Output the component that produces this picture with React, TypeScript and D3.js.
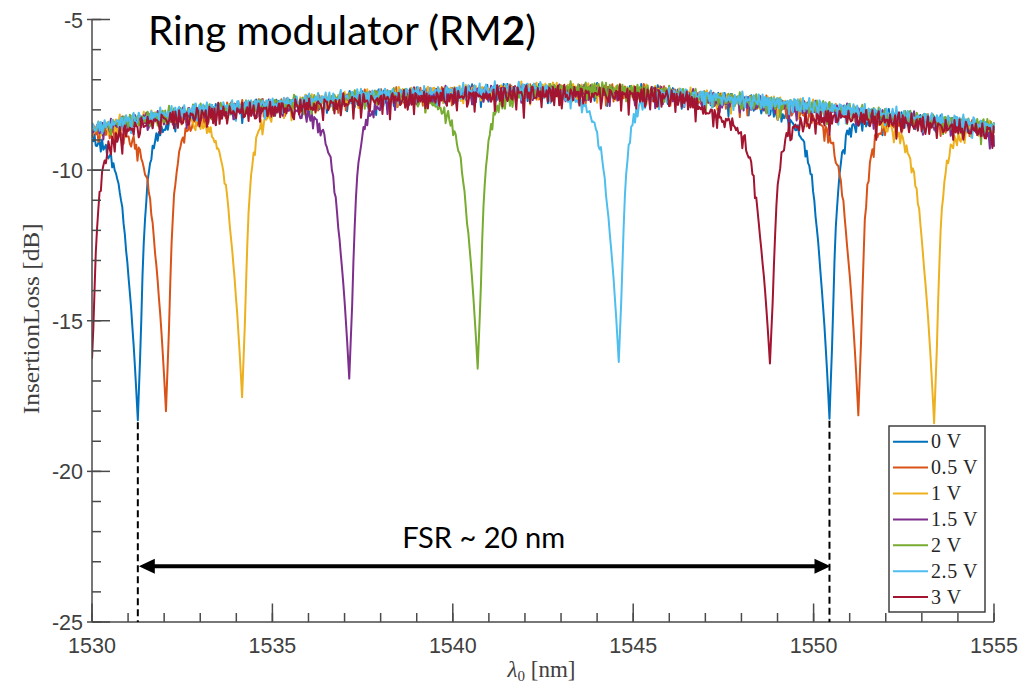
import React from 'react';
import * as d3 from 'd3';

// ---------- data ----------
const seriesNames = ['0 V', '0.5 V', '1 V', '1.5 V', '2 V', '2.5 V', '3 V'];
const seriesColors = ['#0072BD', '#D95319', '#EDB120', '#7E2F8E', '#77AC30', '#4DBEEE', '#A2142F'];
// resonance wavelengths (nm) and minimum insertion loss (dB) per series
const dipCenters = [
  [1531.27, 1550.44],
  [1532.05, 1551.24],
  [1534.16, 1553.34],
  [1537.13, 1556.3],
  [1540.69],
  [1544.6],
  [1529.96, 1548.79],
];
const dipMinima = [
  [-18.3, -18.25],
  [-18.0, -18.14],
  [-17.54, -18.4],
  [-16.92, -17.0],
  [-16.59],
  [-16.37],
  [-17.4, -16.42],
];
const seriesLevel = [0, 0, 0.02, -0.02, 0.03, 0.06, -0.08];

// off-resonance insertion loss (band centre)
const baselineWl = [1530, 1531, 1532, 1533, 1534, 1535, 1536, 1537, 1538, 1539, 1540, 1541, 1542, 1543, 1544, 1545, 1546, 1547, 1548, 1549, 1550, 1551, 1552, 1553, 1554, 1555];
const baselineDb = [-8.65, -8.4, -8.2, -8.05, -7.95, -7.85, -7.75, -7.65, -7.55, -7.5, -7.45, -7.4, -7.35, -7.35, -7.35, -7.4, -7.45, -7.62, -7.72, -7.82, -7.93, -8.07, -8.2, -8.33, -8.47, -8.6];
// extra offset of the 3 V trace
const redExtraWl = [1530, 1546.5, 1547, 1550, 1551, 1555];
const redExtraDb = [-0.05, -0.05, -0.25, -0.25, -0.08, -0.05];

// resonance line shape (fraction of the dip depth vs detuning in nm)
const dipLeftOffset = [0, 0.03, 0.07, 0.13, 0.2, 0.29, 0.4, 0.5, 0.7, 0.9, 1.2, 1.6, 2.2];
const dipLeftFrac = [1, 0.93, 0.84, 0.72, 0.6, 0.47, 0.32, 0.22, 0.12, 0.07, 0.04, 0.02, 0];
const dipRightOffset = [0, 0.03, 0.08, 0.13, 0.18, 0.24, 0.36, 0.5, 0.78, 1.1, 1.6];
const dipRightFrac = [1, 0.9, 0.74, 0.52, 0.36, 0.25, 0.13, 0.07, 0.035, 0.015, 0];

// measurement ripple (dB)
const noiseA = [0.05, -0.08, 0.12, -0.02, -0.15, 0.08, 0.02, -0.22, 0.1, 0.04, -0.06, 0.14, -0.1, -0.3, 0.06, 0.1, -0.04, 0.02, -0.12, 0.09, 0.13, -0.07, -0.18, 0.03, 0.11, -0.05, 0.0, -0.26, 0.07, 0.12, -0.09, 0.04, -0.14, 0.1, 0.01, -0.06, 0.15, -0.2, 0.05, -0.03, 0.09, -0.11, 0.06, -0.35, 0.08, 0.12, -0.02, -0.08, 0.1, -0.15, 0.03, 0.07, -0.05];
const noiseB = [-0.04, 0.06, 0.1, -0.12, 0.03, -0.07, 0.08, -0.02, 0.12, -0.16, 0.05, 0.0, -0.09, 0.11, -0.05, 0.07, -0.24, 0.04, 0.09, -0.03, -0.1, 0.13, 0.02, -0.06, 0.08, -0.13, 0.06, 0.1, -0.01, -0.2, 0.05, 0.09, -0.07, 0.03, 0.11, -0.04, -0.15, 0.07, 0.01, 0.1, -0.08, 0.04, -0.28, 0.06, 0.12, -0.05, 0.02, -0.1, 0.08, 0.05, -0.03, 0.09, -0.12, 0.04, 0.0, 0.07, -0.06, 0.11, -0.18, 0.03, 0.06];
const noiseAmp = [1.05, 1.05, 1.05, 1.05, 1.05, 1.05, 1.35];

const xDomain = [1530, 1555];
const yDomain = [-25, -5];
const xTickLabels = ['1530', '1535', '1540', '1545', '1550', '1555'];
const yTickLabels = ['-5', '-10', '-15', '-20', '-25'];
const fsrWl = [1531.27, 1550.44];
const fsrText = 'FSR ~ 20 nm';
const titleMain = 'Ring modulator (RM';
const titleBold = '2';
const xLabelUnit = ' [nm]';
const yLabel = 'InsertionLoss [dB]';
const sampleStep = 0.035;

// ---------- layout ----------
const W = 1023;
const H = 688;
const left = 92;
const right = 994;
const top = 19.5;
const bottom = 622;

export default function App() {
  const x = d3.scaleLinear().domain(xDomain).range([left, right]);
  const y = d3.scaleLinear().domain(yDomain).range([bottom, top]);
  const base = d3.scaleLinear().domain(baselineWl).range(baselineDb).clamp(true);
  const redExtra = d3.scaleLinear().domain(redExtraWl).range(redExtraDb).clamp(true);
  const leftShape = d3.scaleLinear().domain(dipLeftOffset).range(dipLeftFrac).clamp(true);
  const rightShape = d3.scaleLinear().domain(dipRightOffset).range(dipRightFrac).clamp(true);

  const nSamples = Math.floor((xDomain[1] - xDomain[0]) / sampleStep) + 1;
  const grid = d3.range(nSamples).map((i) => xDomain[0] + i * sampleStep).concat([xDomain[1]]);

  const series = seriesNames.map((_, s) => {
    const lvl = (wl: number) => base(wl) + seriesLevel[s] + (s === 6 ? redExtra(wl) : 0);
    const centersIn = dipCenters[s].filter((c) => c > xDomain[0] && c < xDomain[1]);
    const samples = grid
      .map((wl, i) => ({ wl, i }))
      .concat(centersIn.map((c) => ({ wl: c, i: Math.round((c - xDomain[0]) / sampleStep) })))
      .sort((a, b) => a.wl - b.wl);
    return samples.map(({ wl, i }) => {
      let drop = 0;
      let fmax = 0;
      dipCenters[s].forEach((c, k) => {
        const off = wl - c;
        const f = off < 0 ? leftShape(-off) : rightShape(off);
        drop += f * (lvl(c) - dipMinima[s][k]);
        fmax = Math.max(fmax, f);
      });
      const n = (noiseA[(i + 7 * s) % noiseA.length] + noiseB[(i + 11 * s) % noiseB.length]) * noiseAmp[s];
      const damp = (1 - fmax) * (1 - fmax);
      return [wl, lvl(wl) - drop + n * damp] as [number, number];
    });
  });

  const line = d3
    .line<[number, number]>()
    .x((d) => x(d[0]))
    .y((d) => y(d[1]));

  const minorX = x.ticks(25);
  const majorX = x.ticks(5);
  const minorY = y.ticks(20);
  const majorY = y.ticks(4);

  const axisColor = '#4a4a4a';
  const textColor = '#404040';

  const legX = 889;
  const legY = 426;
  const legW = 96;
  const legH = 186;
  const rowH = 25.9;
  const row0 = 441.7;

  const arrowY = y(-23.15);
  const fsrMid = (fsrWl[0] + fsrWl[1]) / 2;

  return (
    <svg width={W} height={H} style={{ position: 'absolute', left: 0, top: 0, background: '#fff' }}>
      <defs>
        <clipPath id="plotClip">
          <rect x={left} y={top - 2} width={right - left + 2} height={bottom - top + 2} />
        </clipPath>
      </defs>
      <rect x={0} y={0} width={W} height={H} fill="#fff" />

      {/* traces */}
      <g clipPath="url(#plotClip)" fill="none" strokeLinejoin="round">
        {series.map((pts, s) => (
          <path key={s} d={line(pts) || ''} stroke={seriesColors[s]} strokeWidth={2} />
        ))}
      </g>

      {/* axes */}
      <g stroke={axisColor} strokeWidth={1.5}>
        <line x1={left} x2={left} y1={top} y2={bottom} />
        <line x1={left} x2={right} y1={bottom} y2={bottom} />
        {minorX.map((t) => (
          <line key={'mx' + t} x1={x(t)} x2={x(t)} y1={bottom} y2={bottom - 9} />
        ))}
        {majorX.map((t) => (
          <line key={'Mx' + t} x1={x(t)} x2={x(t)} y1={bottom} y2={bottom - 18.5} />
        ))}
        {minorY.map((t) => (
          <line key={'my' + t} x1={left} x2={left + 9} y1={y(t)} y2={y(t)} />
        ))}
        {majorY.map((t) => (
          <line key={'My' + t} x1={left - 5} x2={left + 18} y1={y(t)} y2={y(t)} />
        ))}
      </g>

      <g fontFamily="'Liberation Sans', Arial, sans-serif" fontSize={21.5} fill={textColor}>
        {majorX.map((t, i) => (
          <text key={'lx' + t} x={x(t)} y={653} textAnchor="middle">
            {xTickLabels[i]}
          </text>
        ))}
        {majorY.map((t) => (
          <text key={'ly' + t} x={83} y={y(t) + 8} textAnchor="end">
            {yTickLabels[yTickLabels.indexOf(String(t))]}
          </text>
        ))}
      </g>

      {/* axis labels */}
      <text
        x={541.5}
        y={677}
        textAnchor="middle"
        fontFamily="'Liberation Serif', 'DejaVu Serif', serif"
        fontSize={23}
        fill={textColor}
      >
        <tspan fontStyle="italic">λ</tspan>
        <tspan fontSize={15} dy={4}>0</tspan>
        <tspan dy={-4}>{xLabelUnit}</tspan>
      </text>
      <text
        transform={`translate(39,${(top + bottom) / 2 - 2}) rotate(-90)`}
        textAnchor="middle"
        fontFamily="'Liberation Serif', 'DejaVu Serif', serif"
        fontSize={23}
        fill={textColor}
        textLength={191}
        lengthAdjust="spacingAndGlyphs"
      >
        {yLabel}
      </text>

      {/* FSR annotation */}
      <g stroke="#000" strokeWidth={2} strokeDasharray="7,4">
        {fsrWl.map((w, i) => (
          <line key={'fsr' + i} x1={x(w)} x2={x(w)} y1={y(dipMinima[0][i]) + 2} y2={bottom} />
        ))}
      </g>
      <line x1={x(fsrWl[0]) + 12} x2={x(fsrWl[1]) - 12} y1={arrowY} y2={arrowY} stroke="#000" strokeWidth={4} />
      <path
        d={`M${x(fsrWl[0]) + 1},${arrowY} L${x(fsrWl[0]) + 17},${arrowY - 7.5} L${x(fsrWl[0]) + 17},${arrowY + 7.5} Z`}
        fill="#000"
      />
      <path
        d={`M${x(fsrWl[1]) + 1},${arrowY} L${x(fsrWl[1]) - 15},${arrowY - 7.5} L${x(fsrWl[1]) - 15},${arrowY + 7.5} Z`}
        fill="#000"
      />
      <text
        x={x(fsrMid)}
        y={548.3}
        textAnchor="middle"
        fontFamily="Lato, 'Open Sans', sans-serif"
        fontSize={28}
        fill="#000"
        textLength={163}
        lengthAdjust="spacingAndGlyphs"
      >
        {fsrText}
      </text>

      {/* title */}
      <text
        x={148}
        y={45}
        fontFamily="Lato, 'Open Sans', sans-serif"
        fontSize={40}
        fill="#000"
        textLength={388}
        lengthAdjust="spacingAndGlyphs"
      >
        {titleMain}
        <tspan fontWeight="bold">{titleBold}</tspan>)
      </text>

      {/* legend */}
      <rect x={legX} y={legY} width={legW} height={legH} fill="#fff" stroke="#333" strokeWidth={1.4} />
      {seriesNames.map((name, i) => (
        <g key={name}>
          <line
            x1={893}
            x2={928}
            y1={row0 + i * rowH}
            y2={row0 + i * rowH}
            stroke={seriesColors[i]}
            strokeWidth={2}
          />
          <text
            x={931}
            y={row0 + i * rowH + 6.5}
            fontFamily="'Liberation Serif', 'DejaVu Serif', serif"
            fontSize={20}
            letterSpacing={0.6}
            fill="#262626"
          >
            {name}
          </text>
        </g>
      ))}
    </svg>
  );
}
